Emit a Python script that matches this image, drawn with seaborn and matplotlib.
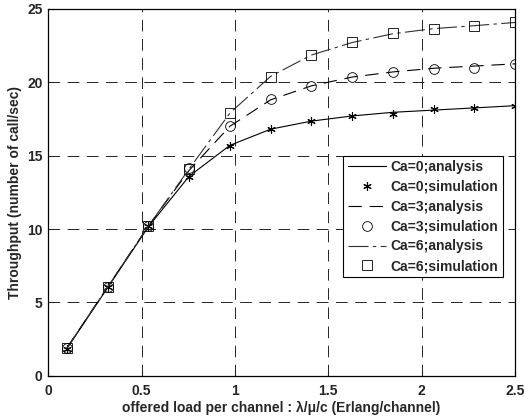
import numpy as np
import pandas as pd
import seaborn as sns
import matplotlib.pyplot as plt

# offered load per channel (Erlang/channel)
load = [0.1, 0.318, 0.536, 0.755, 0.973, 1.191, 1.409, 1.627, 1.845, 2.064, 2.282, 2.5]

# throughput, analysis and simulation
ca0_analysis = [1.85, 6.0, 10.15, 13.6, 15.7, 16.8, 17.35, 17.7, 17.95, 18.1, 18.25, 18.4]
ca0_simulation = [1.8, 6.05, 10.2, 13.57, 15.68, 16.8, 17.38, 17.73, 17.84, 18.16, 18.23, 18.38]
ca3_analysis = [1.9, 6.05, 10.2, 14.0, 17.0, 18.8, 19.75, 20.35, 20.7, 20.95, 21.1, 21.25]
ca3_simulation = [1.9, 6.05, 10.2, 14.14, 17.02, 18.84, 19.77, 20.38, 20.72, 20.88, 21.0, 21.25]
ca6_analysis = [1.9, 6.05, 10.2, 14.1, 17.9, 20.4, 21.85, 22.7, 23.3, 23.65, 23.85, 24.07]
ca6_simulation = [1.9, 6.05, 10.2, 14.1, 17.9, 20.38, 21.86, 22.72, 23.34, 23.6, 23.84, 24.07]

sns.set_style('ticks')
plt.rcParams['font.family'] = ['Liberation Sans', 'DejaVu Sans']
plt.rcParams['font.weight'] = 'bold'
plt.rcParams['font.size'] = 10

fig = plt.figure(figsize=(5.24, 4.19), dpi=100)
ax = fig.add_axes([0.092, 0.103, 0.891, 0.876])

sns.lineplot(x=load, y=ca0_analysis, ax=ax, color='black', lw=0.8,
             label='Ca=0;analysis')
ax.plot(load, ca0_simulation, ls='none', marker=(6, 2, 0), ms=6, mew=0.8,
        color='black', label='Ca=0;simulation')
sns.lineplot(x=load, y=ca3_analysis, ax=ax, color='black', lw=0.8,
             label='Ca=3;analysis')
ax.lines[-1].set_dashes([12, 7])
ax.plot(load, ca3_simulation, ls='none', marker='o', ms=7, mew=0.6,
        color='black', mfc='none', label='Ca=3;simulation')
sns.lineplot(x=load, y=ca6_analysis, ax=ax, color='#303030', lw=0.8,
             label='Ca=6;analysis')
ax.lines[-1].set_dashes([18, 4, 3, 4])
ax.plot(load, ca6_simulation, ls='none', marker='s', ms=6.5, mew=0.6,
        color='black', mfc='none', label='Ca=6;simulation')

ax.set_xlim(0, 2.5)
ax.set_ylim(0, 25)
ax.set_xticks([0, 0.5, 1, 1.5, 2, 2.5])
ax.set_xticklabels(['0', '0.5', '1', '1.5', '2', '2.5'])
ax.set_yticks([0, 5, 10, 15, 20, 25])
ax.grid(True, color='black', ls=(0, (14, 9)), lw=0.6)
ax.tick_params(direction='in', length=4, width=0.8, labelsize=10)
ax.tick_params(axis='x', pad=6)
ax.tick_params(axis='y', pad=4)
for s in ax.spines.values():
    s.set_linewidth(0.9)
    s.set_color('black')

ax.set_xlabel('offered load per channel : λ/μ/c (Erlang/channel)',
              fontsize=10, fontweight='bold', labelpad=2)
ax.set_ylabel('Throughput (number of call/sec)', fontsize=10,
              fontweight='bold', labelpad=4)

leg = ax.legend(loc='upper right', bbox_to_anchor=(0.988, 0.618),
                fancybox=False, framealpha=1, edgecolor='black',
                fontsize=10, handlelength=2.8, borderpad=0.3,
                labelspacing=0.42, handletextpad=0.3)
leg.get_frame().set_linewidth(0.8)

fig.savefig('out.png', dpi=100)
